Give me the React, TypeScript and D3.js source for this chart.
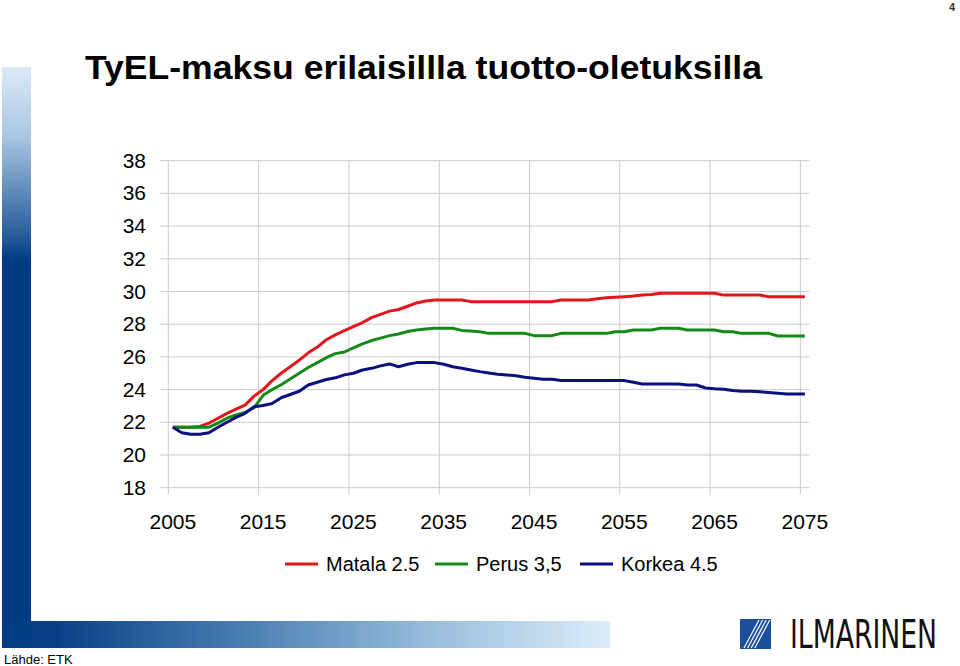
import * as d3 from "d3";

// years 2005..2075, one value per year
const YEARS = d3.range(2005, 2076);

const MATALA = [
  21.7, 21.7, 21.7, 21.75, 21.95, 22.25, 22.55, 22.8, 23.05, 23.6,
  24.0, 24.55, 25.0, 25.4, 25.8, 26.25, 26.6, 27.05, 27.35, 27.6,
  27.85, 28.1, 28.4, 28.6, 28.8, 28.9, 29.1, 29.3, 29.42, 29.48,
  29.48, 29.48, 29.48, 29.38, 29.38, 29.38, 29.38, 29.38, 29.38, 29.38,
  29.38, 29.38, 29.38, 29.48, 29.48, 29.48, 29.48, 29.55, 29.62, 29.65,
  29.68, 29.72, 29.78, 29.82, 29.89, 29.89, 29.89, 29.89, 29.89, 29.89,
  29.89, 29.78, 29.78, 29.78, 29.78, 29.78, 29.68, 29.68, 29.68, 29.68,
  29.68,
];

const PERUS = [
  21.7, 21.7, 21.7, 21.7, 21.7, 21.95, 22.25, 22.45, 22.6, 22.9,
  23.65, 24.0, 24.3, 24.65, 25.0, 25.35, 25.65, 25.95, 26.2, 26.3,
  26.55, 26.8, 27.0, 27.15, 27.3, 27.4, 27.55, 27.65, 27.7, 27.75,
  27.75, 27.75, 27.62, 27.58, 27.54, 27.44, 27.44, 27.44, 27.44, 27.44,
  27.3, 27.3, 27.3, 27.44, 27.44, 27.44, 27.44, 27.44, 27.44, 27.54,
  27.54, 27.64, 27.64, 27.64, 27.75, 27.75, 27.75, 27.64, 27.64, 27.64,
  27.64, 27.54, 27.54, 27.44, 27.44, 27.44, 27.44, 27.28, 27.28, 27.28,
  27.28,
];

const KORKEA = [
  21.7, 21.36, 21.27, 21.27, 21.36, 21.7, 22.0, 22.3, 22.55, 22.95,
  23.03, 23.15, 23.5, 23.7, 23.9, 24.28, 24.45, 24.62, 24.72, 24.9,
  25.0, 25.2, 25.3, 25.45, 25.57, 25.4, 25.55, 25.65, 25.65, 25.65,
  25.55, 25.4, 25.3, 25.2, 25.1, 25.02, 24.94, 24.9, 24.85, 24.75,
  24.69, 24.63, 24.63, 24.55, 24.55, 24.55, 24.55, 24.55, 24.55, 24.55,
  24.55, 24.45, 24.34, 24.34, 24.34, 24.34, 24.34, 24.28, 24.28, 24.1,
  24.05, 24.02, 23.95, 23.9, 23.9, 23.87, 23.82, 23.78, 23.73, 23.73,
  23.73,
];

const SERIES = [
  { name: "Matala 2.5", color: "#e3161b", values: MATALA },
  { name: "Perus 3,5", color: "#138a16", values: PERUS },
  { name: "Korkea 4.5", color: "#0c0f80", values: KORKEA },
];

const Y_TICKS = [18, 20, 22, 24, 26, 28, 30, 32, 34, 36, 38];
const X_TICKS = [2005, 2015, 2025, 2035, 2045, 2055, 2065, 2075];

const FONT = "Arial, 'Liberation Sans', sans-serif";
const GRID = "#c9c9d3";
const NAVY = "#003c84";

export default function App() {
  // category axis: gridlines on category edges, points on category centres
  const x = d3.scaleLinear().domain([2005, 2076]).range([168.3, 809.4]);
  const y = d3.scaleLinear().domain([18, 38]).range([487.7, 160.7]);
  const [x0, x1] = x.range();

  const line = d3
    .line<number>()
    .x((_, i) => x(YEARS[i] + 0.5))
    .y((d) => y(d));

  const legendX = [285, 435, 580];

  return (
    <div style={{ position: "absolute", left: 0, top: 0 }}>
      <svg width={960} height={666} style={{ display: "block", fontFamily: FONT }}>
        <defs>
          <linearGradient id="vbar" x1="0" x2="0" y1="0" y2="1" gradientUnits="objectBoundingBox">
            <stop offset="0" stopColor="#dbe9f6" />
            <stop offset="0.12" stopColor="#a9c6e2" />
            <stop offset="0.3" stopColor="#1f5596" />
            <stop offset="0.33" stopColor={NAVY} />
            <stop offset="1" stopColor={NAVY} />
          </linearGradient>
          <linearGradient id="hbar" x1="0" x2="1" y1="0" y2="0">
            <stop offset="0" stopColor={NAVY} />
            <stop offset="0.08" stopColor="#073f86" />
            <stop offset="0.4" stopColor="#4a7fb2" />
            <stop offset="0.7" stopColor="#97bcdc" />
            <stop offset="1" stopColor="#dcedf9" />
          </linearGradient>
        </defs>

        <rect width={960} height={666} fill="#fff" />

        {/* slide frame */}
        <rect x={2} y={67} width={29} height={581} fill="url(#vbar)" />
        <rect x={2} y={621} width={608} height={27} fill="url(#hbar)" />

        <text x={952} y={11} fontSize={11} fontWeight="bold" fill="#333" textAnchor="middle">4</text>

        <text
          x={85}
          y={79}
          fontSize={33}
          fontWeight="bold"
          fontFamily="'Liberation Sans Narrow', 'Arial Narrow', Arial, sans-serif"
          textLength={677}
          lengthAdjust="spacingAndGlyphs"
          fill="#000"
        >
          TyEL-maksu erilaisillla tuotto-oletuksilla
        </text>

        {/* grid */}
        {Y_TICKS.map((t) => (
          <line key={`h${t}`} x1={x0 - 8} x2={x1} y1={y(t)} y2={y(t)} stroke={GRID} strokeWidth={1} />
        ))}
        {X_TICKS.map((t) => (
          <line key={`v${t}`} x1={x(t)} x2={x(t)} y1={y(38)} y2={y(18) + 7} stroke={GRID} strokeWidth={1} />
        ))}

        {Y_TICKS.map((t) => (
          <text key={`yl${t}`} x={146} y={y(t) + 7} fontSize={21} textAnchor="end" fill="#000">
            {t}
          </text>
        ))}
        {X_TICKS.map((t) => (
          <text key={`xl${t}`} x={x(t + 0.5)} y={529} fontSize={21} textAnchor="middle" fill="#000">
            {t}
          </text>
        ))}

        {SERIES.map((s) => (
          <path
            key={s.name}
            d={line(s.values) ?? ""}
            fill="none"
            stroke={s.color}
            strokeWidth={3}
            strokeLinejoin="round"
          />
        ))}

        {/* legend */}
        {SERIES.map((s, i) => (
          <g key={`lg${s.name}`}>
            <line x1={legendX[i]} x2={legendX[i] + 33} y1={564} y2={564} stroke={s.color} strokeWidth={3} />
            <text x={legendX[i] + 41} y={571} fontSize={20} fill="#000">
              {s.name}
            </text>
          </g>
        ))}

        <text x={4} y={664} fontSize={13} fill="#000">Lähde: ETK</text>

        {/* logo */}
        <rect x={740} y={619} width={31} height={30} fill="#1b4f9e" />
        {[0, 1, 2, 3].map((k) => (
          <line
            key={`st${k}`}
            x1={744 + k * 3.6}
            x2={759 + k * 3.6}
            y1={648}
            y2={620}
            stroke="#fff"
            strokeWidth={1.2}
          />
        ))}
        <g transform="translate(790,648) scale(1,1.8)">
          <text
            x={0}
            y={0}
            fontSize={22}
            fontWeight={300}
            fontFamily="'DejaVu Sans Condensed', 'DejaVu Sans', sans-serif"
            textLength={147}
            lengthAdjust="spacingAndGlyphs"
            fill="#111"
          >
            ILMARINEN
          </text>
        </g>
      </svg>
    </div>
  );
}
